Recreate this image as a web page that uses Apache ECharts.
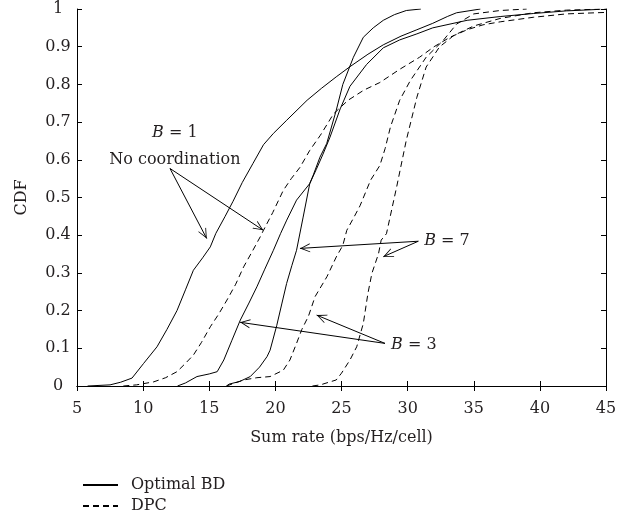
<html>
  <head>
    <meta charset="utf-8" />
    <script src="https://cdn.jsdelivr.net/npm/echarts@6/dist/echarts.min.js"></script>
  </head>
  <body>
    <style>
      html,
      body,
      #main {
        width: 100%;
        height: 100%;
        margin: 0;
        background: #fff;
      }
    </style>
    <div id="main"></div>
    <script>
      // sum rate (bps/Hz/cell) vs CDF
      const optimalB1 = [
        [5.8, 0], [7.5, 0.003], [8.3, 0.01], [9.16, 0.021], [10.04, 0.06], [11.05, 0.104],
        [11.8, 0.15], [12.56, 0.2], [13.2, 0.255], [13.8, 0.307], [14.5, 0.34], [15.08, 0.369],
        [15.5, 0.405], [16.2, 0.45], [16.8, 0.49], [17.5, 0.54], [18.3, 0.59], [19.1, 0.64],
        [19.85, 0.67], [20.86, 0.705], [22.4, 0.758], [23.5, 0.79], [24.6, 0.82], [25.64, 0.847],
        [27, 0.88], [28.16, 0.905], [29.5, 0.928], [30.7, 0.945], [31.9, 0.962], [33, 0.98],
        [33.7, 0.99], [35.5, 1]
      ];
      const optimalB3 = [
        [12.6, 0], [13.2, 0.008], [14.07, 0.025], [15.0, 0.032], [15.6, 0.038], [16.1, 0.069],
        [16.7, 0.12], [17.35, 0.175], [18.0, 0.22], [18.6, 0.263], [19.2, 0.31], [19.85, 0.36],
        [20.4, 0.405], [20.86, 0.44], [21.6, 0.493], [22.6, 0.537], [23.1, 0.575], [23.6, 0.615],
        [24.13, 0.66], [24.9, 0.735], [25.64, 0.795], [26.9, 0.853], [28.16, 0.897], [29.4, 0.918],
        [30.7, 0.934], [31.9, 0.95], [34.5, 0.97], [37, 0.98], [39.5, 0.988], [42, 0.995], [44.5, 0.999]
      ];
      const optimalB7 = [
        [16.3, 0], [16.5, 0.005], [17.3, 0.012], [18.1, 0.025], [18.8, 0.05], [19.37, 0.078],
        [19.6, 0.095], [20.1, 0.16], [20.5, 0.22], [20.85, 0.272], [21.25, 0.32], [21.6, 0.36],
        [22.1, 0.448], [22.6, 0.537], [22.87, 0.56], [23.37, 0.607], [23.88, 0.643], [24.6, 0.731],
        [25.1, 0.8], [25.9, 0.872], [26.65, 0.925], [27.4, 0.95], [28.16, 0.97], [29, 0.985],
        [29.9, 0.996], [31, 1]
      ];
      const dpcB1 = [
        [8.5, 0], [9.5, 0.003], [10.8, 0.011], [11.7, 0.022], [12.56, 0.038], [13.2, 0.06],
        [13.8, 0.082], [14.4, 0.115], [15.08, 0.157], [15.7, 0.19], [16.34, 0.228], [17.0, 0.27],
        [17.6, 0.316], [18.3, 0.36], [18.86, 0.396], [19.1, 0.413], [19.8, 0.46], [20.6, 0.519],
        [21.2, 0.55], [21.86, 0.58], [22.6, 0.625], [23.4, 0.665], [24.4, 0.722], [25.5, 0.758],
        [26.7, 0.785], [27.9, 0.805], [29.4, 0.84], [30.9, 0.872], [32, 0.9], [33.2, 0.925],
        [34.5, 0.945], [35.7, 0.958], [37, 0.966], [39.5, 0.978], [42, 0.987], [45, 0.991]
      ];
      const dpcB3 = [
        [16.3, 0], [17.6, 0.016], [18.6, 0.022], [19.6, 0.025], [20.6, 0.042], [21.1, 0.069],
        [21.6, 0.113], [22.0, 0.15], [22.5, 0.185], [23.0, 0.237], [23.9, 0.29], [24.6, 0.342],
        [25.1, 0.373], [25.4, 0.413], [25.9, 0.445], [26.4, 0.478], [27.2, 0.546], [27.9, 0.585],
        [28.3, 0.63], [28.7, 0.687], [29.4, 0.758], [30.2, 0.81], [31.4, 0.872], [32.7, 0.917],
        [33.7, 0.96], [35, 0.987], [37, 0.996], [39, 1]
      ];
      const dpcB7 = [
        [22.8, 0], [23.4, 0.003], [24.6, 0.016], [25, 0.034], [25.64, 0.069], [26.15, 0.104],
        [26.65, 0.166], [27.0, 0.246], [27.3, 0.299], [27.8, 0.351], [28.0, 0.387], [28.4, 0.404],
        [29.17, 0.528], [29.9, 0.652], [30.7, 0.766], [31.4, 0.846], [32.4, 0.899], [33.5, 0.93],
        [35, 0.955], [37, 0.975], [39.5, 0.99], [42, 0.997], [45, 1]
      ];

      const xTicks = { min: 5, max: 45, interval: 5 };
      const yTicks = { min: 0, max: 1, interval: 0.1 };

      // annotation arrows: [from, to] in data units
      const arrows = [
        [[12.03, 0.577], [14.81, 0.391]],
        [[12.03, 0.577], [19.09, 0.413]],
        [[30.81, 0.384], [21.86, 0.365]],
        [[30.81, 0.384], [28.16, 0.343]],
        [[28.29, 0.113], [17.33, 0.169]],
        [[28.29, 0.113], [23.12, 0.188]]
      ];
      const notes = [
        { at: [12.4, 0.672], text: "{i|B} = 1", align: "center" },
        { at: [12.4, 0.6], text: "No coordination", align: "center" },
        { at: [31.25, 0.384], text: "{i|B} = 7", align: "left" },
        { at: [28.75, 0.109], text: "{i|B} = 3", align: "left" }
      ];

      const font = "'DejaVu Serif', 'Liberation Serif', serif";
      const fs = 16;
      const ink = "#231f20";
      const chevron =
        "path://M5,10 L10,20 L9,20 L5,12 L1,20 L0,20 Z M5,0 L5.01,0 L5,0.01 Z";

      function curve(name, data, dashed, extra) {
        return Object.assign(
          {
            name: name,
            type: "line",
            data: data,
            showSymbol: false,
            symbol: "none",
            animation: false,
            silent: true,
            lineStyle: { color: "#000", width: 1, type: dashed ? [6, 4] : "solid" },
            itemStyle: { color: "#000" }
          },
          extra || {}
        );
      }

      const chart = echarts.init(document.getElementById("main"));

      const option = {
        backgroundColor: "#fff",
        animation: false,
        textStyle: { fontFamily: font, color: ink },
        grid: { left: 77, right: 11, top: 9, bottom: 139, outerBoundsMode: "none" },
        legend: {
          data: ["Optimal BD", "DPC"],
          orient: "vertical",
          left: 77,
          top: 472,
          itemWidth: 35,
          itemHeight: 14,
          itemGap: 5,
          selectedMode: false,
          itemStyle: { opacity: 0 },
          textStyle: { fontFamily: font, fontSize: fs, color: ink, padding: [0, 0, 0, 8] }
        },
        xAxis: [
          {
            type: "value",
            min: xTicks.min,
            max: xTicks.max,
            interval: xTicks.interval,
            name: "Sum rate (bps/Hz/cell)",
            nameLocation: "middle",
            nameGap: 44,
            nameTextStyle: { fontFamily: font, fontSize: fs, color: ink },
            axisLine: { lineStyle: { color: "#000", width: 1 } },
            axisTick: { inside: true, length: 5, lineStyle: { color: "#000" } },
            axisLabel: { fontFamily: font, fontSize: fs, color: ink, margin: 15 },
            splitLine: { show: false }
          },
          {
            type: "value",
            position: "top",
            min: xTicks.min,
            max: xTicks.max,
            interval: xTicks.interval,
            axisLine: { lineStyle: { color: "#000", width: 1 } },
            axisTick: { inside: true, length: 5, lineStyle: { color: "#000" } },
            axisLabel: { show: false },
            splitLine: { show: false }
          }
        ],
        yAxis: [
          {
            type: "value",
            min: yTicks.min,
            max: yTicks.max,
            interval: yTicks.interval,
            name: "CDF",
            nameLocation: "middle",
            nameGap: 47,
            nameTextStyle: { fontFamily: font, fontSize: fs, color: ink },
            axisLine: { show: true, lineStyle: { color: "#000", width: 1 } },
            axisTick: { show: true, inside: true, length: 5, lineStyle: { color: "#000" } },
            axisLabel: { fontFamily: font, fontSize: fs, color: ink, margin: 19, align: "center" },
            splitLine: { show: false }
          },
          {
            type: "value",
            position: "right",
            min: yTicks.min,
            max: yTicks.max,
            interval: yTicks.interval,
            axisLine: { show: true, lineStyle: { color: "#000", width: 1 } },
            axisTick: { show: true, inside: true, length: 5, lineStyle: { color: "#000" } },
            axisLabel: { show: false },
            splitLine: { show: false }
          }
        ],
        series: [
          curve("Optimal BD", optimalB1, false, {
            markLine: {
              silent: true,
              animation: false,
              symbol: ["none", chevron],
              symbolSize: [9, 20],
              label: { show: false },
              lineStyle: { color: "#000", width: 1, type: "solid" },
              emphasis: { disabled: true },
              data: arrows.map(function (a) {
                return [{ coord: a[0] }, { coord: a[1] }];
              })
            },
            markPoint: {
              silent: true,
              animation: false,
              symbol: "circle",
              symbolSize: 0,
              data: notes.map(function (n) {
                return {
                  coord: n.at,
                  label: {
                    show: true,
                    position: "inside",
                    align: n.align,
                    verticalAlign: "middle",
                    formatter: n.text,
                    fontFamily: font,
                    fontSize: fs,
                    color: ink,
                    rich: {
                      i: { fontStyle: "italic", fontFamily: font, fontSize: fs, color: ink }
                    }
                  }
                };
              })
            }
          }),
          curve("Optimal BD", optimalB3, false),
          curve("Optimal BD", optimalB7, false),
          curve("DPC", dpcB1, true),
          curve("DPC", dpcB3, true),
          curve("DPC", dpcB7, true)
        ]
      };

      chart.setOption(option);
      window.onresize = chart.resize;
    </script>
  </body>
</html>
